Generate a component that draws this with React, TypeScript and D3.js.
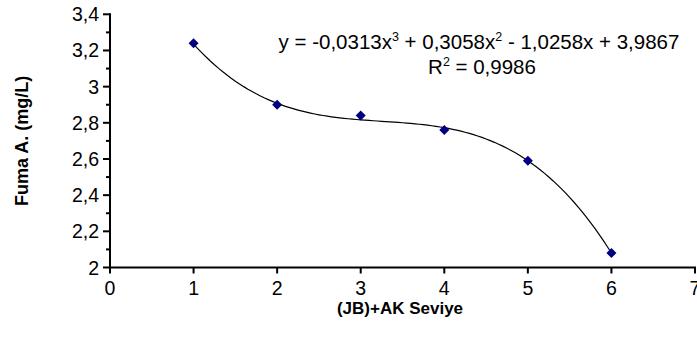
import React from "react";
import * as d3 from "d3";

const xValues = [1, 2, 3, 4, 5, 6];
const yValues = [3.24, 2.9, 2.84, 2.76, 2.59, 2.08];
const xTicks = [0, 1, 2, 3, 4, 5, 6, 7];
const yTicks = [2, 2.2, 2.4, 2.6, 2.8, 3, 3.2, 3.4];
const yMinorTicks = [2.1, 2.3, 2.5, 2.7, 2.9, 3.1, 3.3];
// trendline coefficients shown on the chart (x^3, x^2, x, const)
const trendCoefs = [-0.0313, 0.3058, -1.0258, 3.9867];
const eqParts = ["y = -0,0313x", "3", " + 0,3058x", "2", " - 1,0258x + 3,9867"];
const r2Value = "0,9986";

const W = 697;
const H = 351;
const FONT = "'Liberation Sans', Arial, sans-serif";

export default function App() {
  const x = d3.scaleLinear().domain([0, 7]).range([110, 695]);
  const y = d3.scaleLinear().domain([2, 3.4]).range([267.5, 14.3]);
  const fmt = (v: number) => String(+v.toFixed(1)).replace(".", ",");

  const trendX = d3.range(xValues[0], xValues[xValues.length - 1] + 0.001, 0.05);
  const trend = (t: number) =>
    trendCoefs[0] * t * t * t + trendCoefs[1] * t * t + trendCoefs[2] * t + trendCoefs[3];
  const line = d3
    .line<number>()
    .x((t) => x(t))
    .y((t) => y(trend(t)));

  const diamond = d3.symbol().type(d3.symbolSquare).size(50)();

  return (
    <svg
      width={W}
      height={H}
      style={{ position: "absolute", left: 0, top: 0, background: "#fff" }}
      fontFamily={FONT}
    >
      {/* y axis */}
      <line x1={x(0)} x2={x(0)} y1={y(3.4) - 1} y2={y(2)} stroke="#000" strokeWidth={2} />
      {yTicks.map((t) => (
        <g key={"yt" + t}>
          <line x1={x(0) - 7} x2={x(0)} y1={y(t)} y2={y(t)} stroke="#000" strokeWidth={2} />
          <text x={x(0) - 11} y={y(t)} dy="0.36em" textAnchor="end" fontSize={19.5}>
            {fmt(t)}
          </text>
        </g>
      ))}
      {yMinorTicks.map((t) => (
        <line key={"ym" + t} x1={x(0) - 4} x2={x(0)} y1={y(t)} y2={y(t)} stroke="#000" strokeWidth={2} />
      ))}
      {/* x axis */}
      <line x1={x(0)} x2={x(7) + 1} y1={y(2)} y2={y(2)} stroke="#000" strokeWidth={2} />
      {xTicks.map((t) => (
        <g key={"xt" + t}>
          <line x1={x(t)} x2={x(t)} y1={y(2)} y2={y(2) + 6} stroke="#000" strokeWidth={2} />
          <text x={x(t)} y={y(2) + 27.5} textAnchor="middle" fontSize={19.5}>
            {t}
          </text>
        </g>
      ))}
      {/* axis titles */}
      <text
        transform={`translate(28, ${(y(3.4) + y(2)) / 2}) rotate(-90)`}
        textAnchor="middle"
        fontSize={18}
        fontWeight="bold"
      >
        Fuma A. (mg/L)
      </text>
      <text x={400} y={314} textAnchor="middle" fontSize={17}
        fontWeight="bold">
        (JB)+AK Seviye
      </text>
      {/* trendline */}
      <path d={line(trendX) || ""} fill="none" stroke="#000" strokeWidth={1.2} />
      {/* points */}
      {xValues.map((v, i) => (
        <path
          key={"p" + i}
          d={diamond || ""}
          transform={`translate(${x(v)},${y(yValues[i])}) rotate(45)`}
          fill="#000080"
        />
      ))}
      {/* equation */}
      <text x={479} y={49} textAnchor="middle" fontSize={20.5}>
        <tspan>{eqParts[0]}</tspan>
        <tspan fontSize={12.5} dy={-8}>{eqParts[1]}</tspan>
        <tspan dy={8}>{eqParts[2]}</tspan>
        <tspan fontSize={12.5} dy={-8}>{eqParts[3]}</tspan>
        <tspan dy={8}>{eqParts[4]}</tspan>
      </text>
      <text x={482} y={74} textAnchor="middle" fontSize={20.5}>
        <tspan>R</tspan>
        <tspan fontSize={12.5} dy={-8}>2</tspan>
        <tspan dy={8}>{" = " + r2Value}</tspan>
      </text>
    </svg>
  );
}
